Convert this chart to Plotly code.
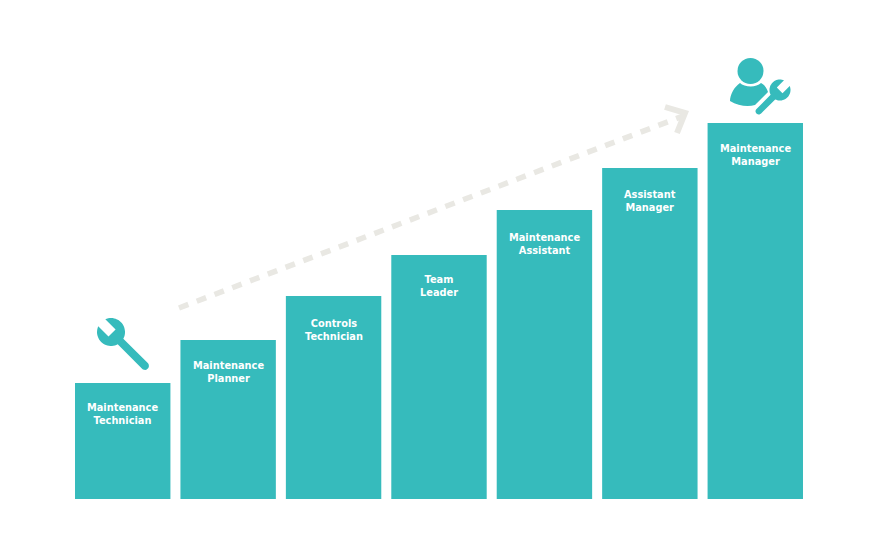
import numpy as np
import plotly.graph_objects as go

# page body keeps its 8px margin, so the figure sits inside the 879x556 window
PAGE_W, PAGE_H, M = 879, 556, 8
W, H = PAGE_W - 2 * M, PAGE_H - 2 * M
TEAL = "#36BBBC"
GREY = "#E9E8E3"

roles = ["Maintenance<br>Technician", "Maintenance<br>Planner", "Controls<br>Technician",
         "Team<br>Leader", "Maintenance<br>Assistant", "Assistant<br>Manager", "Maintenance<br>Manager"]
levels = [116, 159, 203, 244, 289, 331, 376]
label_gap = [18, 19, 21, 18, 21, 20, 19]

# trend arrow, in pixels of the picture
trend_x = [179, 683]
trend_y = [308, 116]
head_x = [665, 685, 677]
head_y = [107, 113, 133]


def wrench(cx, cy, r, notch_w, notch_d, angle, length, width):
    # wrench outline, u axis runs down the handle
    a = np.radians(angle)
    ux, uy = np.cos(a), np.sin(a)
    vx, vy = -uy, ux
    tip = np.arctan2(notch_w, -np.sqrt(r**2 - notch_w**2))
    neck = np.arcsin(width / 2 / r)
    pts = [(-np.sqrt(r**2 - notch_w**2), notch_w), (notch_d, notch_w), (notch_d, -notch_w)]
    for t in np.linspace(-tip, -neck, 24):
        pts.append((r * np.cos(t), r * np.sin(t)))
    for t in np.linspace(-np.pi / 2, np.pi / 2, 12):
        pts.append((length + width / 2 * np.cos(t), width / 2 * np.sin(t)))
    for t in np.linspace(neck, tip, 24):
        pts.append((r * np.cos(t), r * np.sin(t)))
    coords = [(cx + p * ux + q * vx, cy + p * uy + q * vy) for p, q in pts]
    return "M " + " L ".join(f"{x:.1f} {y:.1f}" for x, y in coords) + " Z"


def px_shape(**kw):
    return dict(xref="x2", yref="y2", line_width=0, fillcolor=TEAL, **kw)


fig = go.Figure()
fig.add_trace(go.Bar(x=roles, y=levels, marker_color=TEAL, marker_line_width=0,
                     hoverinfo="skip", showlegend=False))
fig.add_trace(go.Scatter(x=trend_x, y=trend_y, xaxis="x2", yaxis="y2", mode="lines",
                         line=dict(color=GREY, width=5.5, dash="10px,9px"),
                         hoverinfo="skip", showlegend=False))
fig.add_trace(go.Scatter(x=head_x, y=head_y, xaxis="x2", yaxis="y2", mode="lines",
                         line=dict(color=GREY, width=6),
                         hoverinfo="skip", showlegend=False))

for role, level, gap in zip(roles, levels, label_gap):
    fig.add_annotation(x=role, y=level, text=role, showarrow=False, yanchor="top",
                       yshift=-gap + 1.5, align="center",
                       font=dict(family="DejaVu Sans", size=9.8, color="white", weight=700))

body = ("M 740 83 C 744 87 756 88 761 83 C 765 85 767 89 768 92 L 755 105 "
        "C 748 107 738 106 730 101 C 730 95 734 87 740 83 Z")
fig.update_layout(
    width=W, height=H, margin=dict(l=0, r=0, t=0, b=0),
    paper_bgcolor="white", plot_bgcolor="rgba(0,0,0,0)", bargap=0.095,
    xaxis=dict(domain=[(70 - M) / W, (808 - M) / W], visible=False, type="category"),
    yaxis=dict(domain=[(PAGE_H - M - 499) / H, (PAGE_H - M - 40) / H], range=[0, 459], visible=False),
    xaxis2=dict(domain=[0, 1], range=[M, PAGE_W - M], visible=False, anchor="y2"),
    yaxis2=dict(domain=[0, 1], range=[PAGE_H - M, M], visible=False, anchor="x2"),
    shapes=[
        px_shape(type="path", path=wrench(111, 332, 14, 5, 1.5, 45, 48, 8)),
        px_shape(type="circle", x0=737.5, x1=763.5, y0=58, y1=84),
        px_shape(type="path", path=body),
        px_shape(type="path", path=wrench(780, 90, 10.5, 4, 0.5, 135, 30, 6.5)),
    ],
)

fig.write_html("out.html")
